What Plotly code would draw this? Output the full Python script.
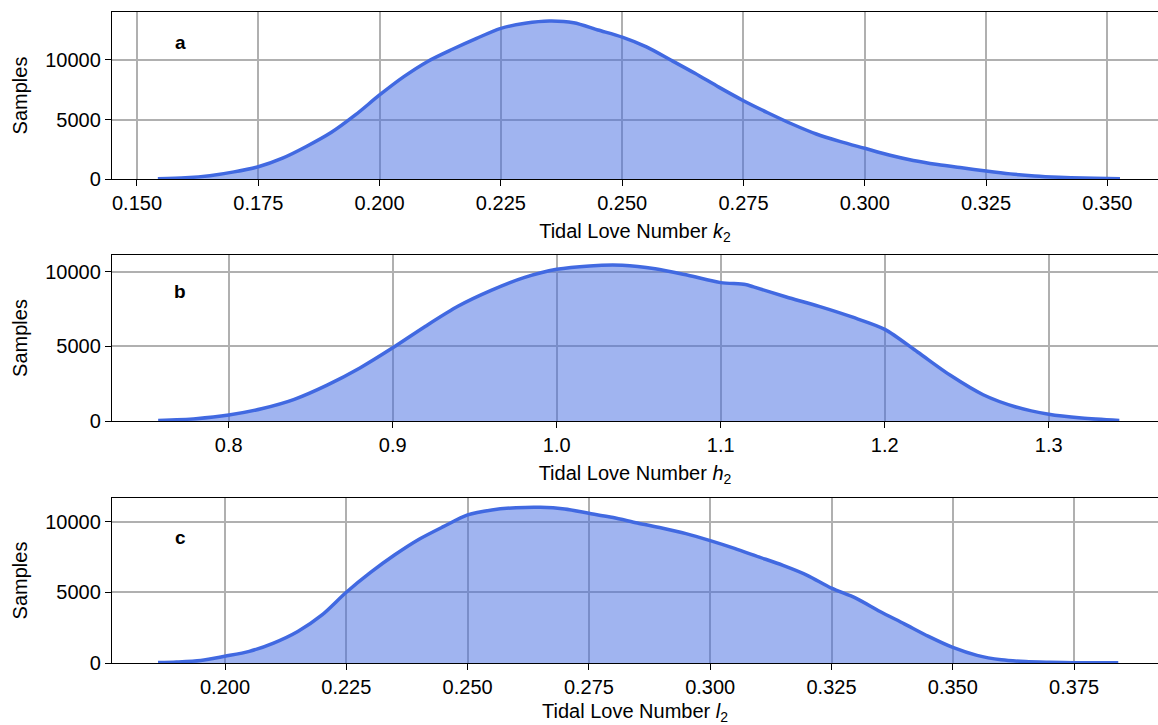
import plotly.graph_objects as go
from plotly.subplots import make_subplots

# Panel a: tidal Love number k2
k2_x = [0.1543, 0.160, 0.165, 0.170, 0.175, 0.180, 0.185, 0.190, 0.195, 0.200,
        0.205, 0.210, 0.215, 0.220, 0.225, 0.230, 0.235, 0.240, 0.245, 0.250,
        0.255, 0.260, 0.265, 0.270, 0.275, 0.280, 0.285, 0.290, 0.295, 0.300,
        0.305, 0.310, 0.315, 0.320, 0.325, 0.330, 0.335, 0.340, 0.345, 0.350, 0.3526]
k2_y = [20, 100, 280, 600, 1030, 1750, 2750, 3900, 5380, 7060,
        8600, 9900, 10900, 11820, 12660, 13080, 13270, 13130, 12520, 11920,
        11100, 10000, 8880, 7700, 6580, 5570, 4620, 3780, 3140, 2580,
        2020, 1560, 1220, 940, 670, 430, 260, 150, 80, 40, 20]

# Panel b: tidal Love number h2
h2_x = [0.757, 0.78, 0.80, 0.82, 0.84, 0.86, 0.88, 0.90, 0.92, 0.94,
        0.96, 0.98, 1.00, 1.02, 1.04, 1.06, 1.08, 1.10, 1.115, 1.12, 1.14,
        1.16, 1.18, 1.20, 1.22, 1.24, 1.26, 1.28, 1.30, 1.32, 1.343]
h2_y = [30, 155, 400, 820, 1450, 2400, 3550, 4900, 6350, 7700,
        8750, 9600, 10160, 10390, 10430, 10200, 9760, 9270, 9150, 8980, 8310,
        7680, 6970, 6140, 4620, 3060, 1760, 940, 450, 200, 40]

# Panel c: tidal Love number l2
l2_x = [0.1862, 0.190, 0.195, 0.200, 0.205, 0.210, 0.215, 0.220, 0.225, 0.230,
        0.235, 0.240, 0.245, 0.250, 0.255, 0.260, 0.265, 0.270, 0.275, 0.280,
        0.285, 0.290, 0.295, 0.300, 0.305, 0.310, 0.315, 0.320, 0.325, 0.330,
        0.335, 0.340, 0.345, 0.350, 0.355, 0.360, 0.365, 0.370, 0.375, 0.3841]
l2_y = [30, 70, 180, 480, 820, 1410, 2230, 3400, 5000, 6400,
        7650, 8750, 9640, 10470, 10820, 10980, 11010, 10890, 10590, 10280,
        9900, 9550, 9150, 8650, 8100, 7500, 6900, 6200, 5290, 4590,
        3640, 2770, 1880, 1100, 540, 230, 100, 50, 20, 10]

x_titles = ["Tidal Love Number <i>k</i><sub>2</sub>",
            "Tidal Love Number <i>h</i><sub>2</sub>",
            "Tidal Love Number <i>l</i><sub>2</sub>"]
panel_labels = ["a", "b", "c"]

W, H = 1158, 725
ML, MR, MT, MB = 112, 0, 12, 62
PH = H - MT - MB
PW = W - ML - MR

def dom(top_px, bot_px):
    lo = max(0.0, (H - MB - bot_px) / PH)
    hi = min(1.0, (H - MB - top_px) / PH)
    return [lo, hi]

fig = make_subplots(rows=3, cols=1)

LINE = "#4169E1"
FILL = "rgba(65,105,225,0.5)"
FONT = "Liberation Sans, Arial, sans-serif"
FS = 20

series = [(k2_x, k2_y), (h2_x, h2_y), (l2_x, l2_y)]
for i, (xs, ys) in enumerate(series, start=1):
    fig.add_trace(go.Scatter(x=xs, y=ys, mode="lines", fill="tozeroy",
                             fillcolor=FILL,
                             line=dict(color=LINE, width=3.5, shape="spline", smoothing=0.8),
                             showlegend=False, hoverinfo="skip"), row=i, col=1)

domains = [dom(12, 179), dom(255, 421), dom(498, 663)]
xranges = [[0.14485, 0.36043], [0.72884, 1.3666], [0.17671, 0.39229]]
yranges = [[0, 14033], [0, 11120], [0, 11665]]
xticks = [[0.150 + 0.025 * k for k in range(9)],
          [0.8 + 0.1 * k for k in range(6)],
          [0.200 + 0.025 * k for k in range(8)]]
xfmts = [".3f", ".1f", ".3f"]

axis_common = dict(showline=True, linecolor="black", linewidth=1.4,
                   ticks="outside", ticklen=6, tickwidth=1.4, tickcolor="black",
                   showgrid=True, gridcolor="#b0b0b0", gridwidth=1.5,
                   zeroline=False, tickfont=dict(size=FS, color="black", family=FONT))

for i in range(3):
    sfx = "" if i == 0 else str(i + 1)
    fig.update_layout(**{
        "xaxis" + sfx: dict(domain=[0, 1], range=xranges[i], tickvals=xticks[i],
                            tickformat=xfmts[i], mirror=True,
                            title=dict(text=x_titles[i], standoff=10,
                                       font=dict(size=FS, color="black", family=FONT)),
                            **axis_common),
        "yaxis" + sfx: dict(domain=domains[i], range=yranges[i],
                            tickvals=[0, 5000, 10000], tickformat="d",
                            title=dict(text="Samples", standoff=12,
                                       font=dict(size=FS, color="black", family=FONT)),
                            **axis_common),
    })

label_py = [42, 291, 537]
for lab, py in zip(panel_labels, label_py):
    fig.add_annotation(text="<b>%s</b>" % lab, xref="paper", yref="paper",
                       x=(180 - ML) / PW, y=(H - MB - py) / PH,
                       showarrow=False, xanchor="center", yanchor="middle",
                       font=dict(size=19, color="black", family=FONT))

fig.update_layout(width=W, height=H, margin=dict(l=ML, r=MR, t=MT, b=MB),
                  plot_bgcolor="white", paper_bgcolor="white",
                  font=dict(family=FONT, color="black"))

fig.write_html("out.html")
